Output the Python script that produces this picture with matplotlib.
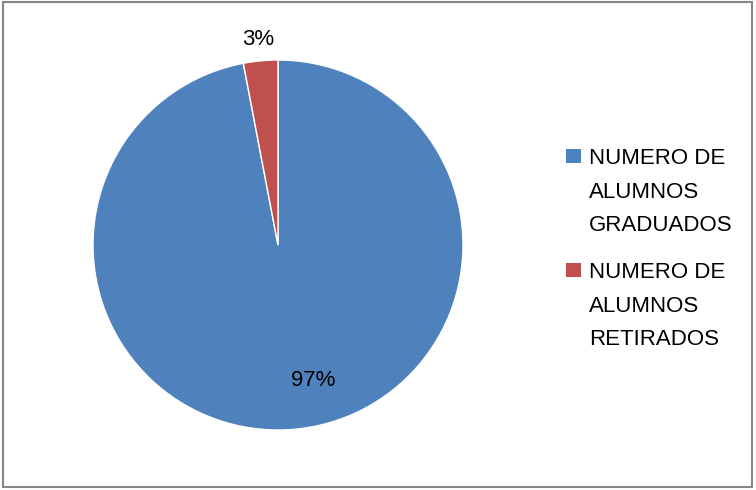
import matplotlib.pyplot as plt
from matplotlib.patches import Rectangle

labels = ["NUMERO DE\nALUMNOS\nGRADUADOS", "NUMERO DE\nALUMNOS\nRETIRADOS"]
shares = [97, 3]
colors = ["#4F81BD", "#C0504D"]

plt.rcParams["font.family"] = ["Liberation Sans", "DejaVu Sans"]

W, H = 756, 490
fig = plt.figure(figsize=(W / 100, H / 100), dpi=100)

# pie: centre (278, 245) px, radius 185 px
ax = fig.add_axes([(278 - 185) / W, (H - 245 - 185) / H, 370 / W, 370 / H])
wedges, texts, autotexts = ax.pie(
    shares, colors=colors, startangle=90, counterclock=False,
    autopct="%1.0f%%", radius=1,
    wedgeprops=dict(edgecolor="white", linewidth=1),
    textprops=dict(fontsize=16, color="black"),
)
ax.set_xlim(-1, 1)
ax.set_ylim(-1, 1)
ax.set_aspect("equal")
ax.axis("off")

# label positions as Excel places them
autotexts[0].set_position((0.19, -0.73))
autotexts[1].set_position((-0.108, 1.113))

# legend drawn by hand so the square sits beside the first line
line_h = 33.3
entry_top = [148, 261.7]
for lab, col, top in zip(labels, colors, entry_top):
    fig.patches.append(Rectangle((566 / W, 1 - (top + 15.5) / H), 15 / W, 14.5 / H,
                                 transform=fig.transFigure, facecolor=col,
                                 edgecolor="none"))
    for i, line in enumerate(lab.split("\n")):
        base = top + 16.5 + i * line_h
        fig.text(589 / W, 1 - base / H, line, fontsize=16, va="baseline", ha="left")

# outer border
fig.patches.append(Rectangle((3 / W, 3 / H), 749 / W, 485 / H, transform=fig.transFigure,
                             facecolor="none", edgecolor="#868686", linewidth=1.5))

fig.savefig("out.png", dpi=100)
